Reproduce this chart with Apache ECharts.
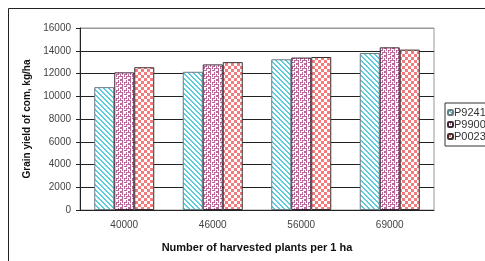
<!DOCTYPE html>
<html>
<head>
<meta charset="utf-8">
<script src="https://cdn.jsdelivr.net/npm/echarts@6/dist/echarts.min.js"></script>
<style>
  html, body { margin: 0; padding: 0; background: #fff; }
  #chart { width: 485px; height: 261px; }
</style>
</head>
<body>
<div id="chart"></div>
<script>
"use strict"
var categories = ['40000', '46000', '56000', '69000'];
var seriesNames = ['P9241', 'P9900', 'P0023'];
var p9241 = [10800, 12150, 13250, 13800];
var p9900 = [12100, 12800, 13400, 14300];
var p0023 = [12550, 13000, 13450, 14100];

// small canvas tiles that stand in for the hatch fills
function makeTile(size, paint) {
  var c = document.createElement('canvas');
  c.width = size; c.height = size;
  var ctx = c.getContext('2d');
  ctx.fillStyle = '#fff';
  ctx.fillRect(0, 0, size, size);
  paint(ctx, size);
  return c;
}
var stripes = makeTile(5, function(ctx, n) {
  ctx.fillStyle = '#5ccbdc';
  for (var y = 0; y < n; y++)
    for (var x = 0; x < n; x++)
      if (((x - y) % n + n) % n < 2) ctx.fillRect(x, y, 1, 1);
});
var keyBits = [
  '11100010',
  '00100010',
  '10101110',
  '10001000',
  '11101011',
  '00100010',
  '00101110',
  '11100000'
];
var maze = makeTile(8, function(ctx, n) {
  ctx.fillStyle = '#bb6699';
  for (var y = 0; y < n; y++)
    for (var x = 0; x < n; x++)
      if (keyBits[y][x] === '1') ctx.fillRect(x, y, 1, 1);
});
var checks = makeTile(6, function(ctx) {
  ctx.fillStyle = '#f47b7b';
  ctx.fillRect(0, 0, 3, 3);
  ctx.fillRect(3, 3, 3, 3);
});

var fills = [stripes, maze, checks];
var borders = ['#6a7a80', '#3a2a34', '#3a3030'];
var values = [p9241, p9900, p0023];

var font = 'Liberation Sans';
var series = [];
for (var i = 0; i < seriesNames.length; i++) {
  series.push({
    name: seriesNames[i],
    type: 'bar',
    data: values[i],
    barWidth: 20,
    barGap: '0%',
    itemStyle: {
      color: { image: fills[i], repeat: 'repeat' },
      borderColor: borders[i],
      borderWidth: 1
    }
  });
}

var gridColors = ['#222', '#222', '#222', '#222', '#222', '#222', '#222', '#222', '#999'];

var option = {
  animation: false,
  backgroundColor: '#fff',
  textStyle: { fontFamily: font },
  graphic: [{
    type: 'rect',
    shape: { x: 8.5, y: 8.5, width: 520, height: 300 },
    style: { fill: 'none', stroke: '#222', lineWidth: 1 },
    z: 0
  }],
  grid: {
    left: 80, right: 51, top: 28, bottom: 51,
    show: true, borderColor: '#999', borderWidth: 1
  },
  legend: {
    orient: 'vertical',
    left: 445, top: 103,
    padding: [4, 20, 4, 2],
    itemWidth: 5, itemHeight: 5, itemGap: 1,
    borderColor: '#333', borderWidth: 1,
    backgroundColor: '#fff',
    textStyle: { fontSize: 11, lineHeight: 11, color: '#333', fontFamily: font, padding: [0, 0, 0, -4] },
    data: seriesNames
  },
  xAxis: {
    type: 'category',
    data: categories,
    name: 'Number of harvested plants per 1 ha',
    nameLocation: 'middle',
    nameGap: 32,
    nameTextStyle: { fontSize: 11, fontWeight: 'bold', color: '#111', fontFamily: font },
    axisLine: { lineStyle: { color: '#222', width: 1 } },
    axisTick: { length: 4, lineStyle: { color: '#222' } },
    axisLabel: { fontSize: 10, color: '#444', margin: 10, fontFamily: font }
  },
  yAxis: {
    type: 'value',
    min: 0, max: 16000, interval: 2000,
    name: 'Grain yield of com, kg/ha',
    nameLocation: 'middle',
    nameGap: 44,
    nameTextStyle: { fontSize: 10, fontWeight: 'bold', color: '#111', fontFamily: font },
    axisLine: { show: true, lineStyle: { color: '#222', width: 1 } },
    axisTick: { show: true, length: 4, lineStyle: { color: '#222' } },
    axisLabel: {
      fontSize: 10, color: '#444', margin: 9, fontFamily: font,
      formatter: function(v) { return String(v); }
    },
    splitLine: { lineStyle: { color: gridColors, width: 1 } }
  },
  series: series
};

var chart = echarts.init(document.getElementById('chart'));
chart.setOption(option);
</script>
</body>
</html>
